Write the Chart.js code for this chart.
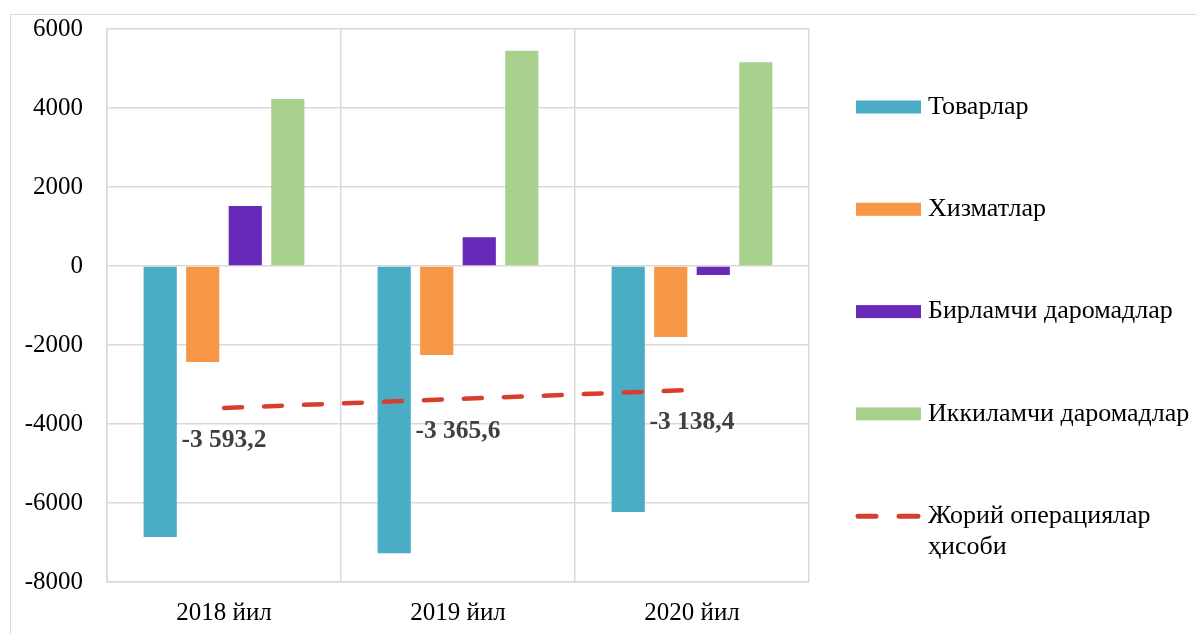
<!DOCTYPE html>
<html>
<head>
<meta charset="utf-8">
<script src="https://cdn.jsdelivr.net/npm/chart.js@4"></script>
<style>
  html, body { margin: 0; padding: 0; background: #fff; }
  #wrap { position: relative; width: 1196px; height: 634px; overflow: hidden; }
  #frame { position: absolute; left: 10px; top: 14px; width: 1300px; height: 700px; border: 1px solid #d9d9d9; }
  #balance-chart { position: absolute; left: 0; top: 0; }
</style>
</head>
<body>
<div id="wrap">
  <div id="frame"></div>
  <canvas id="balance-chart" width="1196" height="634"></canvas>
</div>
<script>
const years = ["2018 йил", "2019 йил", "2020 йил"];
const goods = [-6860, -7270, -6230];
const services = [-2430, -2250, -1800];
const primaryIncome = [1520, 730, -230];
const secondaryIncome = [4230, 5450, 5160];
const currentAccount = [-3593.2, -3365.6, -3138.4];
const yTicks = [6000, 4000, 2000, 0, -2000, -4000, -6000, -8000];

const serif = "'Liberation Serif', 'DejaVu Serif', serif";
const gridColor = "#d9d9d9";

function fmtValue(v) {
  var sign = v < 0 ? "-" : "";
  var parts = Math.abs(v).toFixed(1).split(".");
  var whole = parts[0].replace(/\B(?=(\d{3})+(?!\d))/g, " ");
  return sign + whole + "," + parts[1];
}

// values under the dashed line
const lineLabels = {
  id: "lineLabels",
  afterDatasetsDraw(chart) {
    const ctx = chart.ctx;
    const meta = chart.getDatasetMeta(4);
    ctx.save();
    ctx.font = "bold 25.5px " + serif;
    ctx.fillStyle = "#404040";
    ctx.textAlign = "center";
    ctx.textBaseline = "middle";
    meta.data.forEach((pt, i) => {
      ctx.fillText(fmtValue(currentAccount[i]), pt.x, pt.y + 32);
    });
    ctx.restore();
  }
};

// legend on the right, drawn by hand
const sideLegend = {
  id: "sideLegend",
  afterDraw(chart) {
    const ctx = chart.ctx;
    const sets = chart.data.datasets;
    const left = 856, swW = 65, textX = 928, top = 107, step = 102.3;
    ctx.save();
    ctx.font = "26px " + serif;
    ctx.fillStyle = "#000";
    ctx.textBaseline = "middle";
    sets.forEach((ds, i) => {
      const cy = top + i * step;
      if (ds.type === "line") {
        ctx.strokeStyle = ds.borderColor;
        ctx.lineWidth = 5;
        ctx.lineCap = "round";
        ctx.beginPath();
        ctx.moveTo(left + 2, cy); ctx.lineTo(left + 20, cy);
        ctx.moveTo(left + 43, cy); ctx.lineTo(left + 62, cy);
        ctx.stroke();
        ctx.fillStyle = "#000";
        ctx.fillText("Жорий операциялар", textX, cy);
        ctx.fillText("ҳисоби", textX, cy + 31);
      } else {
        ctx.fillStyle = ds.backgroundColor;
        ctx.fillRect(left, cy - 6.5, swW, 13);
        ctx.fillStyle = "#000";
        ctx.fillText(ds.label, textX, cy);
      }
    });
    ctx.restore();
  }
};

const barOpts = { categoryPercentage: 0.727, barPercentage: 0.78, order: 1, borderWidth: 0 };

new Chart(document.getElementById("balance-chart"), {
  type: "bar",
  data: {
    labels: years,
    datasets: [
      Object.assign({ label: "Товарлар", data: goods, backgroundColor: "#4BACC6" }, barOpts),
      Object.assign({ label: "Хизматлар", data: services, backgroundColor: "#F79646" }, barOpts),
      Object.assign({ label: "Бирламчи даромадлар", data: primaryIncome, backgroundColor: "#6629B8" }, barOpts),
      Object.assign({ label: "Иккиламчи даромадлар", data: secondaryIncome, backgroundColor: "#A9D18E" }, barOpts),
      {
        type: "line",
        label: "Жорий операциялар ҳисоби",
        data: currentAccount,
        borderColor: "#D63F2E",
        borderWidth: 4.5,
        borderDash: [18, 22],
        borderCapStyle: "round",
        pointRadius: 0,
        fill: false,
        tension: 0,
        order: 0
      }
    ]
  },
  options: {
    responsive: false,
    animation: false,
    events: [],
    layout: { padding: { left: 10, top: 29, right: 387, bottom: 0 } },
    plugins: {
      legend: { display: false },
      tooltip: { enabled: false }
    },
    scales: {
      x: {
        grid: { color: gridColor, lineWidth: 1.5, drawTicks: false, offset: true },
        border: { color: gridColor, width: 1.5 },
        ticks: { color: "#000", font: { family: serif, size: 25 }, padding: 16 },
        afterFit(scale) { scale.height = 52; }
      },
      y: {
        min: -8000,
        max: 6000,
        afterBuildTicks(scale) { scale.ticks = yTicks.map(v => ({ value: v })); },
        grid: { color: gridColor, lineWidth: 1.5, drawTicks: false },
        border: { color: gridColor, width: 1.5 },
        ticks: {
          color: "#000",
          font: { family: serif, size: 25 },
          padding: 24,
          callback: (v) => String(v)
        },
        afterFit(scale) {
          scale.width = 97;
          scale.paddingTop = 0;
          scale.paddingBottom = 0;
        }
      }
    }
  },
  plugins: [lineLabels, sideLegend]
});
</script>
</body>
</html>
